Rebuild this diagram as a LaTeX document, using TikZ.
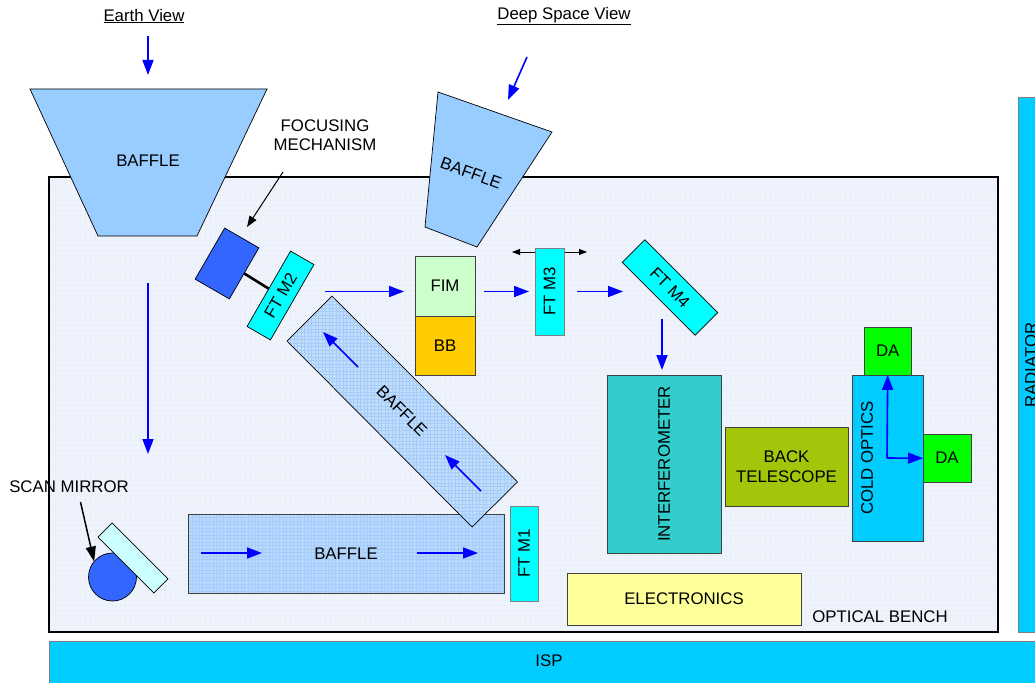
\documentclass[tikz,border=0pt]{standalone}
\usepackage{fontspec}
\setmainfont{Liberation Sans}
\usepackage{tikz}
\usetikzlibrary{arrows.meta}

\definecolor{benchfill}{HTML}{EFF3FB}
\definecolor{benchgrid}{HTML}{EAEFF9}
\definecolor{bafflefill}{HTML}{99CCFF}
\definecolor{hatchfill}{HTML}{B8D8FF}
\definecolor{hatchgrid}{HTML}{A6CCF8}
\definecolor{ftcyan}{HTML}{00FFFF}
\definecolor{skyblue}{HTML}{00CCFF}
\definecolor{mechblue}{HTML}{3366FF}
\definecolor{fimgreen}{HTML}{CCFFCC}
\definecolor{bbyellow}{HTML}{FFCC00}
\definecolor{interfteal}{HTML}{33CCCC}
\definecolor{backolive}{HTML}{A2C60A}
\definecolor{elecyellow}{HTML}{FFFF99}

\begin{document}
\begin{tikzpicture}[
x=1pt,y=-1pt,
font=\fontsize{16.8}{19.5}\selectfont,
box/.style={
draw=black!75,
line width=0.9pt,
inner sep=0pt,
outer sep=0pt,
align=center
},
thin box/.style={
draw=black,
line width=0.7pt,
inner sep=0pt,
outer sep=0pt,
align=center
},
ftm/.style={box, draw=black!50, fill=ftcyan},
baffle/.style={draw=black, line width=0.7pt, fill=bafflefill},
hatched/.style={path picture={
\draw[hatchgrid, line width=0.5pt, step=3.5pt]
(path picture bounding box.south west) grid (path picture bounding box.north east);}},
label/.style={inner sep=0pt, align=center},
beam/.style={-{Triangle[length=15pt,width=11pt]}, blue, line width=1.6pt},
leader/.style={-{Triangle[length=11pt,width=8pt]}, black, line width=1pt}
]
\useasboundingbox (0,0) rectangle (1035,682);

% bench and mounting panels
\draw[black, line width=1.5pt, fill=benchfill, path picture={
\draw[benchgrid, line width=0.4pt, step=5pt]
(path picture bounding box.south west) grid (path picture bounding box.north east);}]
(49,177) rectangle (998,632);
\node[box, draw=black!50, fill=skyblue, minimum width=991pt, minimum height=42pt] (isp) at (544.5,662) {};
\node[label] (isplabel) at (549,661) {ISP};
\node[box, draw=black!50, fill=skyblue, minimum width=22pt, minimum height=535pt] (radiator) at (1029,364.5) {};
\node[label, rotate=90] (radiatorlabel) at (1031,365) {RADIATOR};
\node[label] (benchlabel) at (880,617) {OPTICAL BENCH};

% view labels
\node[label] (earthview) at (144,16) {\underline{Earth View}};
\node[label] (deepview) at (564,16) {\underline{Deep Space View}};

% baffles
\draw[baffle] (30,89) -- (267,89) -- (197,236) -- (98,236) -- cycle;
\node[label] (bafflea) at (148,161) {BAFFLE};
\draw[baffle] (438,92) -- (552,132) -- (477,247) -- (425,227) -- cycle;
\node[label, rotate=-20] (baffleb) at (471,173) {BAFFLE};
\node[box, fill=hatchfill, hatched, minimum width=316pt, minimum height=79pt] (bafflec) at (346,553.5) {BAFFLE};
\draw[baffle, fill=hatchfill, fill opacity=0.8, hatched] (332,296) -- (287,341) -- (472,527) -- (517.5,482) -- cycle;
\node[label, rotate=-45] (baffled) at (402,411) {BAFFLE};

% scan mirror
\node[thin box, circle, fill=mechblue, minimum size=48pt] (scanwheel) at (112.5,577) {};
\node[thin box, fill=ftcyan!20, rotate=-45, minimum width=79pt, minimum height=20pt] (scanmirror) at (133,558) {};
\node[label] (scanlabel) at (69,487) {SCAN MIRROR};
\coordinate (scanstart) at (80.5,502);
\draw[-{Triangle[length=15pt,width=10pt]}, black, line width=1.5pt] (scanstart) -- (scanwheel.140);

% focusing mechanism
\node[thin box, fill=mechblue, rotate=-30, minimum width=39.5pt, minimum height=59pt] (focus) at (227,263.5) {};
\node[thin box, fill=ftcyan, rotate=60, minimum width=87pt, minimum height=27pt] (ftmtwo) at (280.5,295.5) {FT M2};
\draw[black, line width=2.6pt] (focus.east) -- (ftmtwo.north);
\node[label] (focuslabel) at (325,135) {FOCUSING\\MECHANISM};
\coordinate (focusstart) at (283,172);
\coordinate (focusend) at (247,227);
\draw[leader] (focusstart) -- (focusend);

% optical train
\node[box, fill=fimgreen, minimum width=60pt, minimum height=60pt] (fim) at (445,286) {FIM};
\node[box, fill=bbyellow, minimum width=60pt, minimum height=59pt] (bb) at (445,345.5) {BB};
\coordinate (slideleft) at (512,252);
\coordinate (slideright) at (587,252);
\draw[{Triangle[length=8pt,width=6pt]}-{Triangle[length=8pt,width=6pt]}, black, line width=0.8pt] (slideleft) -- (slideright);
\node[ftm, rotate=90, minimum width=87pt, minimum height=28.5pt] (ftmthree) at (549.7,291.5) {FT M3};
\node[thin box, fill=ftcyan, rotate=-45, minimum width=103pt, minimum height=32pt] (ftmfour) at (670,287.5) {FT M4};
\node[ftm, rotate=90, minimum width=95pt, minimum height=28pt] (ftmone) at (524,553.5) {FT M1};

\node[box, fill=interfteal, minimum width=114pt, minimum height=178pt] (interf) at (664,464) {};
\node[label, rotate=90] (interflabel) at (664,464) {INTERFEROMETER};
\node[box, fill=backolive, minimum width=123pt, minimum height=79pt] (backtel) at (786.5,466.5) {BACK\\TELESCOPE};
\node[box, fill=skyblue, minimum width=71pt, minimum height=166pt] (cold) at (887.5,458) {};
\node[label, rotate=90] (coldlabel) at (867,458) {COLD OPTICS};
\node[box, fill=green, minimum width=47.5pt, minimum height=47.5pt] (datop) at (887.7,351.2) {DA};
\node[box, fill=green, minimum width=48pt, minimum height=47.5pt] (daright) at (947,458.2) {DA};
\node[box, fill=elecyellow, minimum width=234pt, minimum height=52pt] (elec) at (684,599) {ELECTRONICS};

% beam arrows
\coordinate (earthtop) at (148,36);
\coordinate (earthtip) at (148,75);
\draw[beam] (earthtop) -- (earthtip);
\coordinate (deeptop) at (527,57);
\coordinate (deeptip) at (508,100);
\draw[beam] (deeptop) -- (deeptip);
\coordinate (downtop) at (148,283);
\coordinate (downtip) at (148,454);
\draw[beam] (downtop) -- (downtip);
\coordinate (baffleone) at (201,553);
\coordinate (baffletwo) at (262,553);
\draw[beam] (baffleone) -- (baffletwo);
\coordinate (bafflethree) at (416.5,553);
\coordinate (bafflefour) at (478,553);
\draw[beam] (bafflethree) -- (bafflefour);
\coordinate (diagone) at (481,491);
\coordinate (diagtwo) at (445,455);
\draw[beam] (diagone) -- (diagtwo);
\coordinate (diagthree) at (358,367);
\coordinate (diagfour) at (323,332);
\draw[beam] (diagthree) -- (diagfour);
\coordinate (mtwoout) at (325,291.5);
\coordinate (fimin) at (404,291.5);
\draw[beam] (mtwoout) -- (fimin);
\coordinate (fimout) at (484,291.5);
\coordinate (mthreein) at (529,291.5);
\draw[beam] (fimout) -- (mthreein);
\coordinate (mthreeout) at (577,291.5);
\coordinate (mfourin) at (623,291.5);
\draw[beam] (mthreeout) -- (mfourin);
\coordinate (mfourout) at (662,319);
\coordinate (interfin) at (662,370);
\draw[beam] (mfourout) -- (interfin);
\coordinate (coldsplit) at (887,458);
\draw[beam] (coldsplit) -- (datop.south);
\draw[beam] (coldsplit) -- (daright.west);

\end{tikzpicture}
\end{document}
